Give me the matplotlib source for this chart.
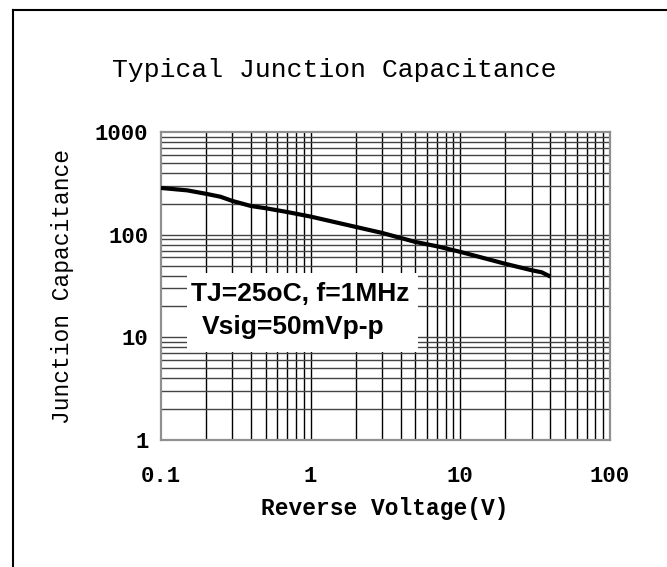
import matplotlib
matplotlib.use("Agg")
import matplotlib.pyplot as plt
from matplotlib.patches import Rectangle
from matplotlib.lines import Line2D
import numpy as np

# Data
voltage = [0.1, 0.15, 0.2, 0.25, 0.3, 0.4, 0.5, 0.7, 1, 2, 3, 5, 7, 10, 20, 30, 35, 40]
capacitance = [285, 270, 250, 234, 213, 190, 181, 166, 150, 119, 104, 85, 77, 68, 52, 45, 43, 39]
x_ticks = [0.1, 1, 10, 100]
x_tick_labels = ["0.1", "1", "10", "100"]
y_ticks = [1, 10, 100, 1000]
y_tick_labels = ["1", "10", "100", "1000"]
title = "Typical Junction Capacitance"
x_label = "Reverse Voltage(V)"
y_label = "Junction Capacitance"
note_lines = ["TJ=25oC, f=1MHz", "Vsig=50mVp-p"]

W, H = 667, 567
fig = plt.figure(figsize=(W / 100, H / 100), dpi=100)
fig.patch.set_facecolor("white")

L, R, T, B = 161, 610, 132, 440
ax = fig.add_axes([L / W, 1 - B / H, (R - L) / W, (B - T) / H])
ax.set_xscale("log")
ax.set_yscale("log")
ax.set_xlim(0.1, 100)
ax.set_ylim(1, 1000)

# grid lines
for dec in [0.1, 1, 10]:
    for m in range(1, 10):
        v = dec * m
        if 0.1 < v < 100:
            ax.axvline(v, color="black", lw=1.0, zorder=1)
for dec in [1, 10, 100]:
    for m in range(1, 10):
        v = dec * m
        if 1 < v < 1000:
            ax.axhline(v, color="#444444", lw=1.0, zorder=1)

ax.plot(voltage, capacitance, color="black", lw=3.0, zorder=4,
        solid_capstyle="butt", solid_joinstyle="round")

for s in ax.spines.values():
    s.set_color("#909090")
    s.set_linewidth(1.6)

mono = "Liberation Mono"
ax.set_xticks(x_ticks)
ax.set_xticklabels(x_tick_labels, fontfamily=mono, fontsize=16, fontweight="bold")
ax.set_yticks(y_ticks)
ax.set_yticklabels(y_tick_labels, fontfamily=mono, fontsize=16, fontweight="bold")
ax.minorticks_off()
ax.tick_params(length=0)
ax.tick_params(axis="y", pad=9)
ax.tick_params(axis="x", pad=19)

fig.text(334 / W, 1 - 70 / H, title, fontfamily=mono, fontsize=19,
         ha="center", va="center")
fig.text(385 / W, 1 - 508 / H, x_label, fontfamily=mono, fontsize=16.5,
         fontweight="bold", ha="center", va="center")
fig.text(63 / W, 1 - 287 / H, y_label, fontfamily=mono, fontsize=16.5,
         ha="center", va="center", rotation=90)

# white note box
bx0, bx1, by0, by1 = 187, 418, 273, 352
fig.patches.append(Rectangle((bx0 / W, 1 - by1 / H), (bx1 - bx0) / W, (by1 - by0) / H,
                             transform=fig.transFigure, facecolor="white",
                             edgecolor="none", zorder=5))
fig.text(300 / W, 1 - 294 / H, note_lines[0], fontfamily="Liberation Sans",
         fontweight="bold", fontsize=19, ha="center", va="center", zorder=6)
fig.text(293 / W, 1 - 327 / H, note_lines[1], fontfamily="Liberation Sans",
         fontweight="bold", fontsize=19, ha="center", va="center", zorder=6)

# outer frame (left and top visible)
fig.lines.append(Line2D([13 / W, 13 / W], [0, 1 - 10 / H], transform=fig.transFigure,
                        color="black", lw=1.5))
fig.lines.append(Line2D([13 / W, 1], [1 - 10 / H, 1 - 10 / H], transform=fig.transFigure,
                        color="black", lw=1.5))

fig.savefig("out.png", dpi=100)
